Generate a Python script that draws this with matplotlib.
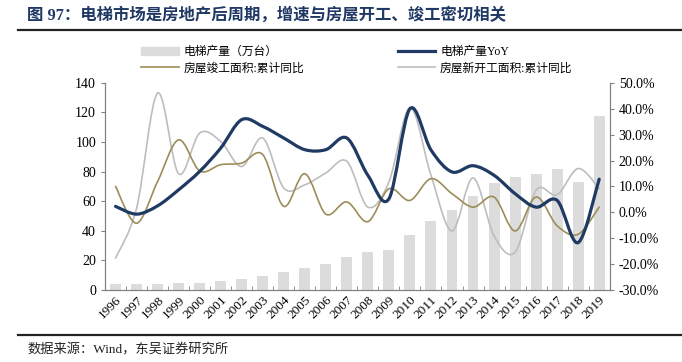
import matplotlib
matplotlib.use("Agg")
import matplotlib.pyplot as plt
import numpy as np
from matplotlib.path import Path
from matplotlib.patches import PathPatch, Patch
from matplotlib.lines import Line2D
from matplotlib.ticker import FuncFormatter

plt.rcParams['font.family'] = ['Liberation Serif', 'Noto Sans CJK SC']

years = [str(y) for y in range(1996, 2020)]
# 电梯产量（万台）
output = [4.0, 4.0, 3.9, 4.5, 5.0, 6.2, 7.4, 9.5, 12.0, 14.7, 17.6, 22.5,
          25.5, 27.3, 37.4, 46.9, 53.9, 63.3, 72.6, 76.6, 78.2, 81.8, 72.8, 117.9]
# 电梯产量YoY (%)
output_yoy = [2.3, -0.7, 2.5, 8.7, 15.8, 24.8, 35.8, 33.2, 28.7, 24.2, 24.2, 28.7,
              14.3, 5.2, 40.0, 24.1, 15.6, 18.0, 14.3, 7.2, 2.0, 4.6, -11.7, 12.8]
# 房屋竣工面积:累计同比 (%)
completed = [10.0, -4.2, 11.9, 28.0, 16.0, 18.4, 19.0, 22.3, 2.3, 14.9, -0.7, 4.0,
             -3.6, 9.1, 4.6, 13.0, 7.2, 2.0, 5.9, -7.2, 5.9, -5.2, -8.5, 2.0]
# 房屋新开工面积:累计同比 (%)
started = [-17.7, 1.6, 46.1, 14.9, 30.6, 27.4, 17.7, 28.7, 9.4, 10.6, 15.2, 19.7,
           2.0, 11.7, 40.4, 14.3, -7.2, 13.3, -9.1, -15.4, 8.5, 6.8, 16.9, 9.1]

navy = '#1f3a63'
olive = '#9c8d58'
lgrey = '#bdbdbd'
bar_c = '#dcdcdc'
spine_c = '#808080'


def smooth_path(xs, ys):
    # excel-like smoothed line: cubic bezier segments through each point
    p = np.column_stack([xs, ys]).astype(float)
    n = len(p)
    verts = [p[0]]
    codes = [Path.MOVETO]
    for i in range(n - 1):
        p0 = p[max(i - 1, 0)]
        p1 = p[i]
        p2 = p[i + 1]
        p3 = p[min(i + 2, n - 1)]
        c1 = p1 + (p2 - p0) / 6.0
        c2 = p2 - (p3 - p1) / 6.0
        verts += [c1, c2, p2]
        codes += [Path.CURVE4] * 3
    return Path(verts, codes)


fig = plt.figure(figsize=(6.82, 3.62), dpi=100)
ax = fig.add_axes([0.154, 0.199, 0.740, 0.572])
ax2 = ax.twinx()

x = np.arange(len(years))
ax.bar(x, output, width=0.52, color=bar_c, zorder=1)
ax.set_xlim(-0.5, len(years) - 0.5)
ax.set_ylim(0, 140)
ax.set_yticks(range(0, 141, 20))
ax2.set_ylim(-30, 50)
ax2.set_yticks(range(-30, 51, 10))
ax2.yaxis.set_major_formatter(FuncFormatter(lambda v, p: '%.1f%%' % v))

for vals, col, lw, z in [(started, lgrey, 1.2, 2), (completed, olive, 1.2, 3),
                         (output_yoy, navy, 2.3, 4)]:
    ax2.add_patch(PathPatch(smooth_path(x, vals), facecolor='none',
                            edgecolor=col, lw=lw, zorder=z, capstyle='round'))

ax.set_xticks(x)
ax.set_xticklabels(years, rotation=45, ha='right', va='top',
                   rotation_mode='anchor', fontsize=9.5)
ax.set_xticks(np.arange(-0.5, len(years), 1), minor=True)
ax.tick_params(axis='x', which='major', length=0, pad=3)
ax.tick_params(axis='x', which='minor', length=3, color=spine_c, direction='in')
ax.tick_params(axis='y', length=3, color=spine_c, labelsize=10)
ax2.tick_params(axis='y', length=3, color=spine_c, labelsize=10)

for a in (ax, ax2):
    a.spines['top'].set_visible(False)
    for s in ('left', 'right', 'bottom'):
        a.spines[s].set_color(spine_c)
        a.spines[s].set_linewidth(0.8)

handles = [Patch(color=bar_c), Line2D([], [], color=olive, lw=1.2),
           Line2D([], [], color=navy, lw=2.3), Line2D([], [], color=lgrey, lw=1.2)]
labels = ['电梯产量（万台）', '房屋竣工面积:累计同比', '电梯产量YoY', '房屋新开工面积:累计同比']
fig.legend(handles, labels, ncol=2, loc='upper left', bbox_to_anchor=(0.2, 0.885),
           frameon=False, fontsize=8.5, handlelength=3.2, handletextpad=0.4,
           columnspacing=7.9, labelspacing=0.35, borderaxespad=0)

fig.text(0.04, 0.958, '图 97：电梯市场是房地产后周期，增速与房屋开工、竣工密切相关',
         fontsize=11.8, fontweight='bold', color='#1f3864', va='center')
fig.add_artist(Line2D([0.026, 1.0], [0.917, 0.917], color='#222222', lw=1.6))
fig.add_artist(Line2D([0.026, 1.0], [0.075, 0.075], color='#222222', lw=1.6))
fig.text(0.04, 0.033, '数据来源：Wind，东吴证券研究所', fontsize=9.5, color='#222222',
         va='center')

fig.savefig('out.png', dpi=100)
